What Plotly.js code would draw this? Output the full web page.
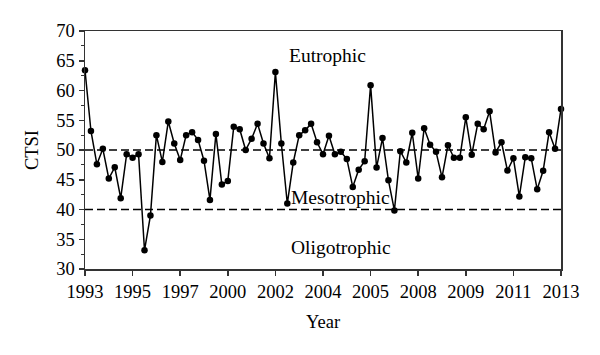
<!DOCTYPE html>
<html>
<head>
<meta charset="utf-8">
<script src="https://cdn.plot.ly/plotly-3.0.1.min.js"></script>
<style>html,body{margin:0;padding:0;background:#fff;}#chart{width:600px;height:355px;}</style>
</head>
<body>
<div id="chart"></div>
<script>
var ctsi = [63.4, 53.2, 47.6, 50.2, 45.2, 47.1, 41.9, 49.3, 48.7, 49.3,
            33.15, 39.0, 52.5, 48.0, 54.8, 51.1, 48.3, 52.5, 53.0, 51.7,
            48.2, 41.6, 52.7, 44.2, 44.8, 53.9, 53.5, 50.0, 51.9, 54.4,
            51.1, 48.6, 63.1, 51.1, 41.0, 47.9, 52.5, 53.3, 54.4, 51.3,
            49.3, 52.4, 49.3, 49.7, 48.5, 43.8, 46.7, 48.1, 60.9, 47.05,
            52.0, 44.9, 39.85, 49.8, 47.9, 52.9, 45.2, 53.65, 50.9, 49.7,
            45.4, 50.8, 48.7, 48.7, 55.5, 49.2, 54.4, 53.5, 56.5, 49.6,
            51.3, 46.55, 48.6, 42.2, 48.8, 48.6, 43.4, 46.5, 53.0, 50.2,
            56.9];
var sampleIndex = ctsi.map(function(_, i){ return i; });
var tickPositions = [0, 8, 16, 24, 32, 40, 48, 56, 64, 72, 80];
var tickLabels = ['1993', '1995', '1997', '2000', '2002', '2004', '2005', '2008', '2009', '2011', '2013'];
var thresholds = [50, 40];
var zoneLabels = ['Eutrophic', 'Mesotrophic', 'Oligotrophic'];
var zoneLabelX = [40.7, 42.9, 43.0];
var zoneLabelY = [65.8, 42.0, 33.6];

var serif = 'Liberation Serif, DejaVu Serif, serif';

var trace = {
  x: sampleIndex,
  y: ctsi,
  type: 'scatter',
  mode: 'lines+markers',
  line: {color: '#000', width: 1.5},
  marker: {color: '#000', size: 6.5},
  cliponaxis: false,
  hoverinfo: 'skip'
};

var shapes = thresholds.map(function(v){
  return {type: 'line', xref: 'paper', x0: 0, x1: 1, yref: 'y', y0: v, y1: v,
          line: {color: '#000', width: 1.5, dash: '8px,4px'}};
});

var annotations = zoneLabels.map(function(t, i){
  return {x: zoneLabelX[i], y: zoneLabelY[i], xref: 'x', yref: 'y', text: t,
          showarrow: false, font: {family: serif, size: 19.5, color: '#000'}};
});

var layout = {
  width: 600, height: 355,
  margin: {l: 85, r: 39, t: 31, b: 86},
  paper_bgcolor: '#fff', plot_bgcolor: '#fff',
  showlegend: false,
  font: {family: serif, size: 18, color: '#000'},
  xaxis: {
    range: [0, 80], tickmode: 'array', tickvals: tickPositions, ticktext: tickLabels,
    showgrid: false, zeroline: false, showline: true, mirror: true,
    linecolor: '#333', linewidth: 1.5, ticks: 'outside', ticklen: 5, tickcolor: '#333', tickwidth: 1.5,
    tickfont: {family: serif, size: 18.5, color: '#000'},
    title: {text: 'Year', font: {family: serif, size: 18.5, color: '#000'}, standoff: 14}
  },
  yaxis: {
    range: [30, 70], dtick: 5, tick0: 30,
    showgrid: false, zeroline: false, showline: true, mirror: true,
    linecolor: '#333', linewidth: 1.5, ticks: 'outside', ticklen: 5, tickcolor: '#333', tickwidth: 1.5,
    minor: {dtick: 2.5, ticks: 'outside', ticklen: 3, tickcolor: '#333', tickwidth: 1, showgrid: false},
    tickfont: {family: serif, size: 18.5, color: '#000'},
    title: {text: 'CTSI', font: {family: serif, size: 18.5, color: '#000'}, standoff: 13}
  },
  shapes: shapes,
  annotations: annotations
};

Plotly.newPlot('chart', [trace], layout, {displayModeBar: false, staticPlot: true});
</script>
</body>
</html>
